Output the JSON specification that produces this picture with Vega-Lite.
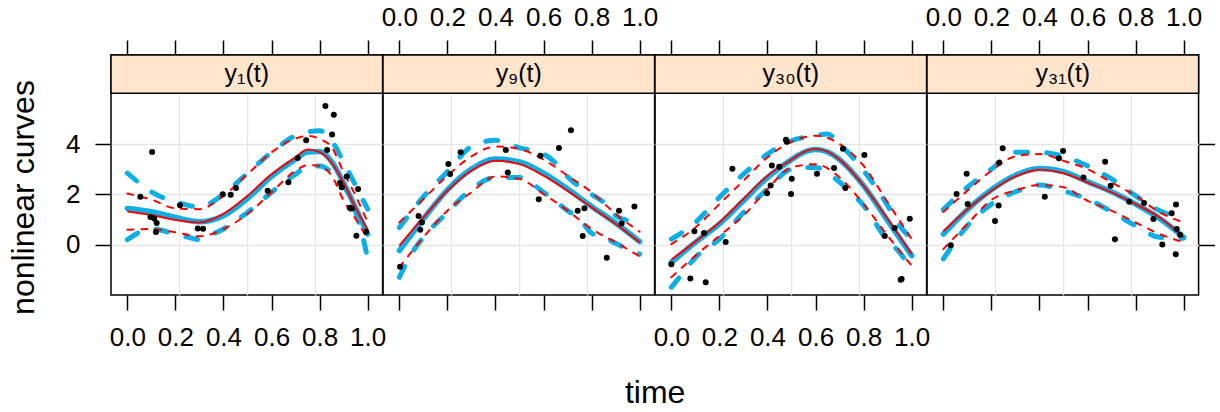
{
"$schema": "https://vega.github.io/schema/vega-lite/v6.json",
"background": "white",
"padding": {"left": 6, "top": 3, "right": 5, "bottom": 5},
"spacing": 0,
"bounds": "flush",
"config": {
  "font": "Liberation Sans",
  "view": {"stroke": "black", "strokeWidth": 1.5},
  "line": {"interpolate": "monotone"},
  "axis": {"labelFont": "Liberation Sans", "labelFontSize": 26, "labelColor": "black", "tickColor": "black", "tickWidth": 1.5, "titleFont": "Liberation Sans", "titleFontSize": 32, "titleFontWeight": "normal", "titleColor": "black", "domain": false, "grid": false, "labelFlush": false, "labelOverlap": false}
},
"datasets": {
"strips": [{"p":"1","lab":"y₁(t)"},{"p":"9","lab":"y₉(t)"},{"p":"30","lab":"y₃₀(t)"},{"p":"31","lab":"y₃₁(t)"}],
"pts": [
{"p":"1","t":0.054,"y":1.90},{"p":"1","t":0.103,"y":3.68},{"p":"1","t":0.096,"y":1.10},{"p":"1","t":0.112,"y":1.04},{"p":"1","t":0.122,"y":0.86},{"p":"1","t":0.119,"y":0.50},{"p":"1","t":0.219,"y":1.57},{"p":"1","t":0.293,"y":0.64},{"p":"1","t":0.315,"y":0.63},{"p":"1","t":0.397,"y":2.00},{"p":"1","t":0.430,"y":1.98},{"p":"1","t":0.452,"y":2.25},{"p":"1","t":0.584,"y":2.14},{"p":"1","t":0.670,"y":2.48},{"p":"1","t":0.709,"y":3.44},{"p":"1","t":0.744,"y":4.15},{"p":"1","t":0.824,"y":5.51},{"p":"1","t":0.859,"y":5.16},{"p":"1","t":0.852,"y":4.38},{"p":"1","t":0.831,"y":3.76},{"p":"1","t":0.913,"y":2.71},{"p":"1","t":0.884,"y":2.45},{"p":"1","t":0.892,"y":2.28},{"p":"1","t":0.960,"y":2.21},{"p":"1","t":0.925,"y":1.47},{"p":"1","t":0.934,"y":1.44},{"p":"1","t":0.953,"y":0.35},{"p":"1","t":0.993,"y":0.51},
{"p":"9","t":0.003,"y":-0.88},{"p":"9","t":0.080,"y":1.14},{"p":"9","t":0.094,"y":0.88},{"p":"9","t":0.087,"y":0.59},{"p":"9","t":0.204,"y":3.21},{"p":"9","t":0.211,"y":2.81},{"p":"9","t":0.255,"y":3.67},{"p":"9","t":0.443,"y":3.76},{"p":"9","t":0.451,"y":2.87},{"p":"9","t":0.587,"y":3.53},{"p":"9","t":0.580,"y":1.80},{"p":"9","t":0.664,"y":3.84},{"p":"9","t":0.714,"y":4.55},{"p":"9","t":0.742,"y":1.35},{"p":"9","t":0.770,"y":1.45},{"p":"9","t":0.763,"y":0.34},{"p":"9","t":0.863,"y":-0.52},{"p":"9","t":0.914,"y":1.35},{"p":"9","t":0.925,"y":0.84},{"p":"9","t":0.978,"y":1.52},
{"p":"30","t":0.0,"y":-0.78},{"p":"30","t":0.079,"y":-1.35},{"p":"30","t":0.143,"y":-1.50},{"p":"30","t":0.096,"y":0.53},{"p":"30","t":0.136,"y":0.46},{"p":"30","t":0.226,"y":0.10},{"p":"30","t":0.254,"y":3.02},{"p":"30","t":0.398,"y":2.04},{"p":"30","t":0.413,"y":2.35},{"p":"30","t":0.418,"y":3.15},{"p":"30","t":0.449,"y":3.10},{"p":"30","t":0.477,"y":4.17},{"p":"30","t":0.480,"y":4.09},{"p":"30","t":0.501,"y":2.62},{"p":"30","t":0.498,"y":2.01},{"p":"30","t":0.606,"y":2.82},{"p":"30","t":0.677,"y":3.05},{"p":"30","t":0.714,"y":3.81},{"p":"30","t":0.724,"y":2.25},{"p":"30","t":0.803,"y":3.56},{"p":"30","t":0.888,"y":0.34},{"p":"30","t":0.929,"y":0.66},{"p":"30","t":0.992,"y":1.03},{"p":"30","t":0.954,"y":-1.40},{"p":"30","t":0.958,"y":-1.37},
{"p":"31","t":0.031,"y":-0.03},{"p":"31","t":0.055,"y":2.01},{"p":"31","t":0.097,"y":2.82},{"p":"31","t":0.101,"y":1.61},{"p":"31","t":0.215,"y":0.94},{"p":"31","t":0.230,"y":1.56},{"p":"31","t":0.232,"y":3.26},{"p":"31","t":0.247,"y":3.83},{"p":"31","t":0.422,"y":1.90},{"p":"31","t":0.481,"y":3.43},{"p":"31","t":0.498,"y":3.72},{"p":"31","t":0.583,"y":2.67},{"p":"31","t":0.673,"y":3.29},{"p":"31","t":0.696,"y":2.34},{"p":"31","t":0.714,"y":0.21},{"p":"31","t":0.773,"y":1.70},{"p":"31","t":0.835,"y":1.65},{"p":"31","t":0.874,"y":1.02},{"p":"31","t":0.911,"y":0.00},{"p":"31","t":0.950,"y":1.25},{"p":"31","t":0.968,"y":1.59},{"p":"31","t":0.971,"y":0.62},{"p":"31","t":0.985,"y":0.39},{"p":"31","t":0.967,"y":-0.38}
],
"curves": [
{"p":"1","c":"r","k":"e","t":0,"v":1.32},{"p":"1","c":"r","k":"e","t":0.1,"v":1.18},{"p":"1","c":"r","k":"e","t":0.2,"v":0.98},{"p":"1","c":"r","k":"e","t":0.3,"v":0.88},{"p":"1","c":"r","k":"e","t":0.4,"v":1.22},{"p":"1","c":"r","k":"e","t":0.5,"v":1.94},{"p":"1","c":"r","k":"e","t":0.6,"v":2.80},{"p":"1","c":"r","k":"e","t":0.7,"v":3.47},{"p":"1","c":"r","k":"e","t":0.75,"v":3.78},{"p":"1","c":"r","k":"e","t":0.8,"v":3.68},{"p":"1","c":"r","k":"e","t":0.85,"v":3.25},{"p":"1","c":"r","k":"e","t":0.9,"v":2.45},{"p":"1","c":"r","k":"e","t":0.95,"v":1.45},{"p":"1","c":"r","k":"e","t":1,"v":0.59},
{"p":"1","c":"b","k":"e","t":0,"v":1.44},{"p":"1","c":"b","k":"e","t":0.1,"v":1.31},{"p":"1","c":"b","k":"e","t":0.2,"v":1.08},{"p":"1","c":"b","k":"e","t":0.3,"v":0.91},{"p":"1","c":"b","k":"e","t":0.4,"v":1.15},{"p":"1","c":"b","k":"e","t":0.5,"v":1.84},{"p":"1","c":"b","k":"e","t":0.6,"v":2.71},{"p":"1","c":"b","k":"e","t":0.7,"v":3.40},{"p":"1","c":"b","k":"e","t":0.75,"v":3.68},{"p":"1","c":"b","k":"e","t":0.8,"v":3.70},{"p":"1","c":"b","k":"e","t":0.85,"v":3.30},{"p":"1","c":"b","k":"e","t":0.9,"v":2.45},{"p":"1","c":"b","k":"e","t":0.95,"v":1.45},{"p":"1","c":"b","k":"e","t":1,"v":0.42},
{"p":"1","c":"r","k":"h","t":0,"v":2.03},{"p":"1","c":"r","k":"h","t":0.1,"v":1.79},{"p":"1","c":"r","k":"h","t":0.2,"v":1.44},{"p":"1","c":"r","k":"h","t":0.3,"v":1.41},{"p":"1","c":"r","k":"h","t":0.4,"v":1.94},{"p":"1","c":"r","k":"h","t":0.5,"v":2.80},{"p":"1","c":"r","k":"h","t":0.6,"v":3.67},{"p":"1","c":"r","k":"h","t":0.7,"v":4.22},{"p":"1","c":"r","k":"h","t":0.75,"v":4.33},{"p":"1","c":"r","k":"h","t":0.8,"v":4.20},{"p":"1","c":"r","k":"h","t":0.85,"v":3.87},{"p":"1","c":"r","k":"h","t":0.9,"v":2.87},{"p":"1","c":"r","k":"h","t":0.95,"v":1.94},{"p":"1","c":"r","k":"h","t":1,"v":0.88},
{"p":"1","c":"r","k":"l","t":0,"v":0.59},{"p":"1","c":"r","k":"l","t":0.1,"v":0.62},{"p":"1","c":"r","k":"l","t":0.2,"v":0.49},{"p":"1","c":"r","k":"l","t":0.3,"v":0.33},{"p":"1","c":"r","k":"l","t":0.4,"v":0.62},{"p":"1","c":"r","k":"l","t":0.5,"v":1.22},{"p":"1","c":"r","k":"l","t":0.6,"v":2.08},{"p":"1","c":"r","k":"l","t":0.7,"v":2.94},{"p":"1","c":"r","k":"l","t":0.75,"v":3.16},{"p":"1","c":"r","k":"l","t":0.8,"v":3.13},{"p":"1","c":"r","k":"l","t":0.85,"v":2.74},{"p":"1","c":"r","k":"l","t":0.9,"v":1.75},{"p":"1","c":"r","k":"l","t":0.95,"v":1.02},{"p":"1","c":"r","k":"l","t":1,"v":0.22},
{"p":"1","c":"b","k":"h","t":0,"v":2.84},{"p":"1","c":"b","k":"h","t":0.05,"v":2.45},{"p":"1","c":"b","k":"h","t":0.1,"v":2.10},{"p":"1","c":"b","k":"h","t":0.2,"v":1.70},{"p":"1","c":"b","k":"h","t":0.3,"v":1.50},{"p":"1","c":"b","k":"h","t":0.4,"v":2.01},{"p":"1","c":"b","k":"h","t":0.5,"v":2.84},{"p":"1","c":"b","k":"h","t":0.6,"v":3.67},{"p":"1","c":"b","k":"h","t":0.7,"v":4.33},{"p":"1","c":"b","k":"h","t":0.8,"v":4.53},{"p":"1","c":"b","k":"h","t":0.85,"v":4.13},{"p":"1","c":"b","k":"h","t":0.9,"v":3.27},{"p":"1","c":"b","k":"h","t":0.95,"v":2.34},{"p":"1","c":"b","k":"h","t":1,"v":1.41},
{"p":"1","c":"b","k":"l","t":0,"v":0.20},{"p":"1","c":"b","k":"l","t":0.05,"v":0.49},{"p":"1","c":"b","k":"l","t":0.1,"v":0.62},{"p":"1","c":"b","k":"l","t":0.15,"v":0.55},{"p":"1","c":"b","k":"l","t":0.2,"v":0.40},{"p":"1","c":"b","k":"l","t":0.25,"v":0.30},{"p":"1","c":"b","k":"l","t":0.3,"v":0.20},{"p":"1","c":"b","k":"l","t":0.35,"v":0.40},{"p":"1","c":"b","k":"l","t":0.4,"v":0.62},{"p":"1","c":"b","k":"l","t":0.45,"v":0.95},{"p":"1","c":"b","k":"l","t":0.5,"v":1.28},{"p":"1","c":"b","k":"l","t":0.6,"v":2.08},{"p":"1","c":"b","k":"l","t":0.7,"v":2.80},{"p":"1","c":"b","k":"l","t":0.75,"v":3.10},{"p":"1","c":"b","k":"l","t":0.8,"v":3.13},{"p":"1","c":"b","k":"l","t":0.85,"v":2.87},{"p":"1","c":"b","k":"l","t":0.9,"v":2.35},{"p":"1","c":"b","k":"l","t":0.95,"v":1.30},{"p":"1","c":"b","k":"l","t":0.975,"v":0.50},{"p":"1","c":"b","k":"l","t":1,"v":-0.57},
{"p":"9","c":"r","k":"e","t":0,"v":-0.04},{"p":"9","c":"r","k":"e","t":0.1,"v":1.08},{"p":"9","c":"r","k":"e","t":0.2,"v":2.14},{"p":"9","c":"r","k":"e","t":0.3,"v":2.94},{"p":"9","c":"r","k":"e","t":0.4,"v":3.33},{"p":"9","c":"r","k":"e","t":0.5,"v":3.20},{"p":"9","c":"r","k":"e","t":0.6,"v":2.74},{"p":"9","c":"r","k":"e","t":0.7,"v":2.14},{"p":"9","c":"r","k":"e","t":0.8,"v":1.48},{"p":"9","c":"r","k":"e","t":0.9,"v":0.82},{"p":"9","c":"r","k":"e","t":1,"v":0.09},
{"p":"9","c":"b","k":"e","t":0,"v":-0.24},{"p":"9","c":"b","k":"e","t":0.1,"v":1.02},{"p":"9","c":"b","k":"e","t":0.2,"v":2.18},{"p":"9","c":"b","k":"e","t":0.3,"v":3.00},{"p":"9","c":"b","k":"e","t":0.4,"v":3.40},{"p":"9","c":"b","k":"e","t":0.5,"v":3.29},{"p":"9","c":"b","k":"e","t":0.6,"v":2.84},{"p":"9","c":"b","k":"e","t":0.7,"v":2.21},{"p":"9","c":"b","k":"e","t":0.8,"v":1.52},{"p":"9","c":"b","k":"e","t":0.9,"v":0.86},{"p":"9","c":"b","k":"e","t":1,"v":0.12},
{"p":"9","c":"r","k":"h","t":0,"v":0.88},{"p":"9","c":"r","k":"h","t":0.1,"v":1.81},{"p":"9","c":"r","k":"h","t":0.2,"v":2.74},{"p":"9","c":"r","k":"h","t":0.3,"v":3.51},{"p":"9","c":"r","k":"h","t":0.4,"v":3.90},{"p":"9","c":"r","k":"h","t":0.5,"v":3.80},{"p":"9","c":"r","k":"h","t":0.6,"v":3.38},{"p":"9","c":"r","k":"h","t":0.7,"v":2.74},{"p":"9","c":"r","k":"h","t":0.8,"v":2.08},{"p":"9","c":"r","k":"h","t":0.9,"v":1.22},{"p":"9","c":"r","k":"h","t":1,"v":0.51},
{"p":"9","c":"r","k":"l","t":0,"v":-0.91},{"p":"9","c":"r","k":"l","t":0.1,"v":0.29},{"p":"9","c":"r","k":"l","t":0.2,"v":1.35},{"p":"9","c":"r","k":"l","t":0.3,"v":2.08},{"p":"9","c":"r","k":"l","t":0.4,"v":2.71},{"p":"9","c":"r","k":"l","t":0.5,"v":2.61},{"p":"9","c":"r","k":"l","t":0.6,"v":2.01},{"p":"9","c":"r","k":"l","t":0.7,"v":1.35},{"p":"9","c":"r","k":"l","t":0.8,"v":0.62},{"p":"9","c":"r","k":"l","t":0.9,"v":0.09},{"p":"9","c":"r","k":"l","t":1,"v":-0.47},
{"p":"9","c":"b","k":"h","t":0,"v":0.68},{"p":"9","c":"b","k":"h","t":0.1,"v":1.90},{"p":"9","c":"b","k":"h","t":0.2,"v":2.90},{"p":"9","c":"b","k":"h","t":0.3,"v":3.90},{"p":"9","c":"b","k":"h","t":0.4,"v":4.15},{"p":"9","c":"b","k":"h","t":0.5,"v":3.85},{"p":"9","c":"b","k":"h","t":0.6,"v":3.60},{"p":"9","c":"b","k":"h","t":0.65,"v":3.25},{"p":"9","c":"b","k":"h","t":0.7,"v":2.70},{"p":"9","c":"b","k":"h","t":0.8,"v":2.00},{"p":"9","c":"b","k":"h","t":0.85,"v":1.68},{"p":"9","c":"b","k":"h","t":0.9,"v":1.15},{"p":"9","c":"b","k":"h","t":0.95,"v":0.97},{"p":"9","c":"b","k":"h","t":1,"v":0.95},
{"p":"9","c":"b","k":"l","t":0,"v":-1.30},{"p":"9","c":"b","k":"l","t":0.05,"v":-0.37},{"p":"9","c":"b","k":"l","t":0.1,"v":0.29},{"p":"9","c":"b","k":"l","t":0.2,"v":1.28},{"p":"9","c":"b","k":"l","t":0.3,"v":2.21},{"p":"9","c":"b","k":"l","t":0.4,"v":2.67},{"p":"9","c":"b","k":"l","t":0.5,"v":2.67},{"p":"9","c":"b","k":"l","t":0.6,"v":2.08},{"p":"9","c":"b","k":"l","t":0.7,"v":1.35},{"p":"9","c":"b","k":"l","t":0.75,"v":1.02},{"p":"9","c":"b","k":"l","t":0.8,"v":0.45},{"p":"9","c":"b","k":"l","t":0.85,"v":0.29},{"p":"9","c":"b","k":"l","t":0.9,"v":0.05},{"p":"9","c":"b","k":"l","t":0.95,"v":-0.18},{"p":"9","c":"b","k":"l","t":1,"v":-0.38},
{"p":"30","c":"r","k":"e","t":0,"v":-0.60},{"p":"30","c":"r","k":"e","t":0.1,"v":0.12},{"p":"30","c":"r","k":"e","t":0.2,"v":0.88},{"p":"30","c":"r","k":"e","t":0.3,"v":1.81},{"p":"30","c":"r","k":"e","t":0.4,"v":2.74},{"p":"30","c":"r","k":"e","t":0.5,"v":3.38},{"p":"30","c":"r","k":"e","t":0.55,"v":3.68},{"p":"30","c":"r","k":"e","t":0.6,"v":3.80},{"p":"30","c":"r","k":"e","t":0.65,"v":3.70},{"p":"30","c":"r","k":"e","t":0.7,"v":3.38},{"p":"30","c":"r","k":"e","t":0.8,"v":2.34},{"p":"30","c":"r","k":"e","t":0.9,"v":1.02},{"p":"30","c":"r","k":"e","t":1,"v":-0.38},
{"p":"30","c":"b","k":"e","t":0,"v":-0.71},{"p":"30","c":"b","k":"e","t":0.1,"v":0.09},{"p":"30","c":"b","k":"e","t":0.2,"v":0.82},{"p":"30","c":"b","k":"e","t":0.3,"v":1.74},{"p":"30","c":"b","k":"e","t":0.4,"v":2.67},{"p":"30","c":"b","k":"e","t":0.5,"v":3.38},{"p":"30","c":"b","k":"e","t":0.55,"v":3.66},{"p":"30","c":"b","k":"e","t":0.6,"v":3.78},{"p":"30","c":"b","k":"e","t":0.65,"v":3.68},{"p":"30","c":"b","k":"e","t":0.7,"v":3.38},{"p":"30","c":"b","k":"e","t":0.8,"v":2.34},{"p":"30","c":"b","k":"e","t":0.9,"v":0.95},{"p":"30","c":"b","k":"e","t":1,"v":-0.44},
{"p":"30","c":"r","k":"h","t":0,"v":0.02},{"p":"30","c":"r","k":"h","t":0.1,"v":0.68},{"p":"30","c":"r","k":"h","t":0.2,"v":1.61},{"p":"30","c":"r","k":"h","t":0.3,"v":2.54},{"p":"30","c":"r","k":"h","t":0.4,"v":3.47},{"p":"30","c":"r","k":"h","t":0.5,"v":4.09},{"p":"30","c":"r","k":"h","t":0.6,"v":4.33},{"p":"30","c":"r","k":"h","t":0.7,"v":4.00},{"p":"30","c":"r","k":"h","t":0.8,"v":3.13},{"p":"30","c":"r","k":"h","t":0.9,"v":1.68},{"p":"30","c":"r","k":"h","t":1,"v":0.22},
{"p":"30","c":"r","k":"l","t":0,"v":-1.30},{"p":"30","c":"r","k":"l","t":0.1,"v":-0.44},{"p":"30","c":"r","k":"l","t":0.2,"v":0.35},{"p":"30","c":"r","k":"l","t":0.3,"v":1.15},{"p":"30","c":"r","k":"l","t":0.4,"v":2.21},{"p":"30","c":"r","k":"l","t":0.5,"v":3.07},{"p":"30","c":"r","k":"l","t":0.6,"v":3.20},{"p":"30","c":"r","k":"l","t":0.7,"v":2.67},{"p":"30","c":"r","k":"l","t":0.8,"v":1.61},{"p":"30","c":"r","k":"l","t":0.9,"v":0.35},{"p":"30","c":"r","k":"l","t":1,"v":-0.84},
{"p":"30","c":"b","k":"h","t":0,"v":0.22},{"p":"30","c":"b","k":"h","t":0.1,"v":0.88},{"p":"30","c":"b","k":"h","t":0.2,"v":1.88},{"p":"30","c":"b","k":"h","t":0.3,"v":2.80},{"p":"30","c":"b","k":"h","t":0.4,"v":3.60},{"p":"30","c":"b","k":"h","t":0.5,"v":4.13},{"p":"30","c":"b","k":"h","t":0.6,"v":4.33},{"p":"30","c":"b","k":"h","t":0.65,"v":4.40},{"p":"30","c":"b","k":"h","t":0.7,"v":4.00},{"p":"30","c":"b","k":"h","t":0.8,"v":2.94},{"p":"30","c":"b","k":"h","t":0.9,"v":1.55},{"p":"30","c":"b","k":"h","t":0.95,"v":0.75},{"p":"30","c":"b","k":"h","t":1,"v":0.22},
{"p":"30","c":"b","k":"l","t":0,"v":-1.70},{"p":"30","c":"b","k":"l","t":0.05,"v":-1.10},{"p":"30","c":"b","k":"l","t":0.1,"v":-0.51},{"p":"30","c":"b","k":"l","t":0.2,"v":0.22},{"p":"30","c":"b","k":"l","t":0.3,"v":1.28},{"p":"30","c":"b","k":"l","t":0.4,"v":2.21},{"p":"30","c":"b","k":"l","t":0.5,"v":3.00},{"p":"30","c":"b","k":"l","t":0.6,"v":3.07},{"p":"30","c":"b","k":"l","t":0.7,"v":2.48},{"p":"30","c":"b","k":"l","t":0.8,"v":1.55},{"p":"30","c":"b","k":"l","t":0.9,"v":0.16},{"p":"30","c":"b","k":"l","t":0.95,"v":-0.31},{"p":"30","c":"b","k":"l","t":1,"v":-1.04},
{"p":"31","c":"r","k":"e","t":0,"v":0.53},{"p":"31","c":"r","k":"e","t":0.1,"v":1.41},{"p":"31","c":"r","k":"e","t":0.2,"v":2.14},{"p":"31","c":"r","k":"e","t":0.3,"v":2.71},{"p":"31","c":"r","k":"e","t":0.4,"v":2.98},{"p":"31","c":"r","k":"e","t":0.5,"v":2.84},{"p":"31","c":"r","k":"e","t":0.6,"v":2.47},{"p":"31","c":"r","k":"e","t":0.7,"v":2.08},{"p":"31","c":"r","k":"e","t":0.8,"v":1.61},{"p":"31","c":"r","k":"e","t":0.9,"v":1.08},{"p":"31","c":"r","k":"e","t":1,"v":0.29},
{"p":"31","c":"b","k":"e","t":0,"v":0.42},{"p":"31","c":"b","k":"e","t":0.1,"v":1.39},{"p":"31","c":"b","k":"e","t":0.2,"v":2.18},{"p":"31","c":"b","k":"e","t":0.3,"v":2.76},{"p":"31","c":"b","k":"e","t":0.4,"v":3.03},{"p":"31","c":"b","k":"e","t":0.5,"v":2.90},{"p":"31","c":"b","k":"e","t":0.6,"v":2.50},{"p":"31","c":"b","k":"e","t":0.7,"v":2.10},{"p":"31","c":"b","k":"e","t":0.8,"v":1.61},{"p":"31","c":"b","k":"e","t":0.9,"v":1.04},{"p":"31","c":"b","k":"e","t":1,"v":0.29},
{"p":"31","c":"r","k":"h","t":0,"v":1.30},{"p":"31","c":"r","k":"h","t":0.1,"v":2.14},{"p":"31","c":"r","k":"h","t":0.2,"v":2.94},{"p":"31","c":"r","k":"h","t":0.3,"v":3.51},{"p":"31","c":"r","k":"h","t":0.4,"v":3.60},{"p":"31","c":"r","k":"h","t":0.5,"v":3.33},{"p":"31","c":"r","k":"h","t":0.6,"v":3.00},{"p":"31","c":"r","k":"h","t":0.7,"v":2.47},{"p":"31","c":"r","k":"h","t":0.8,"v":1.94},{"p":"31","c":"r","k":"h","t":0.9,"v":1.28},{"p":"31","c":"r","k":"h","t":1,"v":0.88},
{"p":"31","c":"r","k":"l","t":0,"v":-0.18},{"p":"31","c":"r","k":"l","t":0.1,"v":0.82},{"p":"31","c":"r","k":"l","t":0.2,"v":1.78},{"p":"31","c":"r","k":"l","t":0.3,"v":2.15},{"p":"31","c":"r","k":"l","t":0.4,"v":2.37},{"p":"31","c":"r","k":"l","t":0.5,"v":2.28},{"p":"31","c":"r","k":"l","t":0.6,"v":1.74},{"p":"31","c":"r","k":"l","t":0.7,"v":1.35},{"p":"31","c":"r","k":"l","t":0.8,"v":0.88},{"p":"31","c":"r","k":"l","t":0.9,"v":0.42},{"p":"31","c":"r","k":"l","t":1,"v":0.09},
{"p":"31","c":"b","k":"h","t":0,"v":1.39},{"p":"31","c":"b","k":"h","t":0.1,"v":2.28},{"p":"31","c":"b","k":"h","t":0.2,"v":3.00},{"p":"31","c":"b","k":"h","t":0.3,"v":3.67},{"p":"31","c":"b","k":"h","t":0.4,"v":3.67},{"p":"31","c":"b","k":"h","t":0.5,"v":3.51},{"p":"31","c":"b","k":"h","t":0.6,"v":3.13},{"p":"31","c":"b","k":"h","t":0.7,"v":2.61},{"p":"31","c":"b","k":"h","t":0.8,"v":1.94},{"p":"31","c":"b","k":"h","t":0.9,"v":1.35},{"p":"31","c":"b","k":"h","t":1,"v":1.02},
{"p":"31","c":"b","k":"l","t":0,"v":-0.57},{"p":"31","c":"b","k":"l","t":0.1,"v":0.75},{"p":"31","c":"b","k":"l","t":0.2,"v":1.61},{"p":"31","c":"b","k":"l","t":0.3,"v":2.10},{"p":"31","c":"b","k":"l","t":0.4,"v":2.37},{"p":"31","c":"b","k":"l","t":0.5,"v":2.14},{"p":"31","c":"b","k":"l","t":0.6,"v":1.81},{"p":"31","c":"b","k":"l","t":0.7,"v":1.31},{"p":"31","c":"b","k":"l","t":0.8,"v":0.75},{"p":"31","c":"b","k":"l","t":0.9,"v":0.29},{"p":"31","c":"b","k":"l","t":1,"v":0.25}
]
},
"hconcat": [
{
 "width": 271.6, "height": 240,
 "resolve": {"axis": {"x": "independent", "y": "independent"}},
 "layer": [
  {"data": {"name": "strips"}, "transform": [{"filter": "datum.p==='1'"}], "mark": {"type": "rect", "fill": "#FFE5CC", "stroke": "black", "strokeWidth": 1.5},
   "encoding": {"x": {"datum": -0.068, "type": "quantitative", "axis": null}, "x2": {"datum": 1.062}, "y": {"datum": 6.02, "type": "quantitative", "axis": null}, "y2": {"datum": 7.54}}},
  {"data": {"name": "strips"}, "transform": [{"filter": "datum.p==='1'"}], "mark": {"type": "text", "fontSize": 25, "baseline": "middle", "align": "center", "color": "black"},
   "encoding": {"x": {"datum": 0.497, "type": "quantitative", "axis": null}, "y": {"datum": 6.78, "type": "quantitative", "axis": null}, "text": {"field": "lab"}}},
  {"data": {"name": "curves"}, "transform": [{"filter": "datum.p==='1' && datum.c==='b' && datum.k!=='e'"}], "mark": {"type": "line", "color": "#0AAFE8", "strokeWidth": 5, "strokeDash": [12, 19], "strokeCap": "round"},
   "encoding": {"x": {"field": "t", "type": "quantitative", "axis": null}, "y": {"field": "v", "type": "quantitative", "axis": null}, "detail": {"field": "k"}}},
  {"data": {"name": "curves"}, "transform": [{"filter": "datum.p==='1' && datum.c==='b' && datum.k==='e'"}], "mark": {"type": "line", "color": "#0AAFE8", "strokeWidth": 5.5, "strokeCap": "round"},
   "encoding": {"x": {"field": "t", "type": "quantitative", "axis": {"orient": "top", "values": [0, 0.2, 0.4, 0.6, 0.8, 1], "tickSize": 15, "labels": false, "title": null}}, "y": {"field": "v", "type": "quantitative", "axis": null}}},
  {"data": {"name": "curves"}, "transform": [{"filter": "datum.p==='1' && datum.c==='r' && datum.k!=='e'"}], "mark": {"type": "line", "color": "#FF0000", "strokeWidth": 2, "strokeDash": [6, 8], "strokeCap": "round"},
   "encoding": {"x": {"field": "t", "type": "quantitative", "axis": null}, "y": {"field": "v", "type": "quantitative", "axis": null}, "detail": {"field": "k"}}},
  {"data": {"name": "curves"}, "transform": [{"filter": "datum.p==='1' && datum.c==='r' && datum.k==='e'"}], "mark": {"type": "line", "color": "#FF0000", "strokeWidth": 2},
   "encoding": {"x": {"field": "t", "type": "quantitative", "axis": {"orient": "bottom", "values": [0.2145, 0.497, 0.7795], "grid": true, "gridColor": "#E6E6E6", "gridWidth": 1.3, "ticks": false, "labels": false, "title": null}}, "y": {"field": "v", "type": "quantitative", "axis": {"orient": "left", "values": [0, 2, 4], "grid": true, "gridColor": "#E6E6E6", "gridWidth": 1.3, "ticks": false, "labels": false, "title": null}}}},
  {"data": {"name": "pts"}, "transform": [{"filter": "datum.p==='1'"}], "mark": {"type": "point", "filled": true, "color": "black", "size": 36, "opacity": 1},
   "encoding": {"x": {"field": "t", "type": "quantitative", "scale": {"domain": [-0.068, 1.062], "nice": false, "zero": false}, "axis": {"orient": "bottom", "values": [0, 0.2, 0.4, 0.6, 0.8, 1], "format": ".1f", "tickSize": 15, "labelPadding": 14, "title": null}},
    "y": {"field": "y", "type": "quantitative", "scale": {"domain": [-2.004, 7.54], "nice": false, "zero": false}, "axis": {"orient": "left", "values": [0, 2, 4], "tickSize": 16, "labelPadding": 15, "labelAngle": 0, "title": "nonlinear curves", "titleAngle": -90, "titleX": -78, "titleY": 142, "titleAlign": "center", "titleBaseline": "alphabetic"}}}}
 ]
},
{
 "width": 271.6, "height": 240,
 "resolve": {"axis": {"x": "independent", "y": "independent"}},
 "layer": [
  {"data": {"name": "strips"}, "transform": [{"filter": "datum.p==='9'"}], "mark": {"type": "rect", "fill": "#FFE5CC", "stroke": "black", "strokeWidth": 1.5},
   "encoding": {"x": {"datum": -0.068, "type": "quantitative", "axis": null}, "x2": {"datum": 1.062}, "y": {"datum": 6.02, "type": "quantitative", "axis": null}, "y2": {"datum": 7.54}}},
  {"data": {"name": "strips"}, "transform": [{"filter": "datum.p==='9'"}], "mark": {"type": "text", "fontSize": 25, "baseline": "middle", "align": "center", "color": "black"},
   "encoding": {"x": {"datum": 0.497, "type": "quantitative", "axis": null}, "y": {"datum": 6.78, "type": "quantitative", "axis": null}, "text": {"field": "lab"}}},
  {"data": {"name": "curves"}, "transform": [{"filter": "datum.p==='9' && datum.c==='b' && datum.k!=='e'"}], "mark": {"type": "line", "color": "#0AAFE8", "strokeWidth": 5, "strokeDash": [12, 19], "strokeCap": "round"},
   "encoding": {"x": {"field": "t", "type": "quantitative", "axis": null}, "y": {"field": "v", "type": "quantitative", "axis": null}, "detail": {"field": "k"}}},
  {"data": {"name": "curves"}, "transform": [{"filter": "datum.p==='9' && datum.c==='b' && datum.k==='e'"}], "mark": {"type": "line", "color": "#0AAFE8", "strokeWidth": 5.5, "strokeCap": "round"},
   "encoding": {"x": {"field": "t", "type": "quantitative", "axis": {"orient": "top", "values": [0, 0.2, 0.4, 0.6, 0.8, 1], "format": ".1f", "tickSize": 15, "labelPadding": 10, "title": null}}, "y": {"field": "v", "type": "quantitative", "axis": null}}},
  {"data": {"name": "curves"}, "transform": [{"filter": "datum.p==='9' && datum.c==='r' && datum.k!=='e'"}], "mark": {"type": "line", "color": "#FF0000", "strokeWidth": 2, "strokeDash": [6, 8], "strokeCap": "round"},
   "encoding": {"x": {"field": "t", "type": "quantitative", "axis": null}, "y": {"field": "v", "type": "quantitative", "axis": null}, "detail": {"field": "k"}}},
  {"data": {"name": "curves"}, "transform": [{"filter": "datum.p==='9' && datum.c==='r' && datum.k==='e'"}], "mark": {"type": "line", "color": "#FF0000", "strokeWidth": 2},
   "encoding": {"x": {"field": "t", "type": "quantitative", "axis": {"orient": "bottom", "values": [0.2145, 0.497, 0.7795], "grid": true, "gridColor": "#E6E6E6", "gridWidth": 1.3, "ticks": false, "labels": false, "title": null}}, "y": {"field": "v", "type": "quantitative", "axis": {"orient": "left", "values": [0, 2, 4], "grid": true, "gridColor": "#E6E6E6", "gridWidth": 1.3, "ticks": false, "labels": false, "title": null}}}},
  {"data": {"name": "pts"}, "transform": [{"filter": "datum.p==='9'"}], "mark": {"type": "point", "filled": true, "color": "black", "size": 36, "opacity": 1},
   "encoding": {"x": {"field": "t", "type": "quantitative", "scale": {"domain": [-0.068, 1.062], "nice": false, "zero": false}, "axis": {"orient": "bottom", "values": [0, 0.2, 0.4, 0.6, 0.8, 1], "tickSize": 15, "labels": false, "title": "time", "titleX": 271.6, "titleY": 107.4, "titleAlign": "center", "titleBaseline": "alphabetic", "titleAngle": 0}},
    "y": {"field": "y", "type": "quantitative", "scale": {"domain": [-2.004, 7.54], "nice": false, "zero": false}, "axis": null}}}
 ]
},
{
 "width": 271.6, "height": 240,
 "resolve": {"axis": {"x": "independent", "y": "independent"}},
 "layer": [
  {"data": {"name": "strips"}, "transform": [{"filter": "datum.p==='30'"}], "mark": {"type": "rect", "fill": "#FFE5CC", "stroke": "black", "strokeWidth": 1.5},
   "encoding": {"x": {"datum": -0.068, "type": "quantitative", "axis": null}, "x2": {"datum": 1.062}, "y": {"datum": 6.02, "type": "quantitative", "axis": null}, "y2": {"datum": 7.54}}},
  {"data": {"name": "strips"}, "transform": [{"filter": "datum.p==='30'"}], "mark": {"type": "text", "fontSize": 25, "baseline": "middle", "align": "center", "color": "black"},
   "encoding": {"x": {"datum": 0.497, "type": "quantitative", "axis": null}, "y": {"datum": 6.78, "type": "quantitative", "axis": null}, "text": {"field": "lab"}}},
  {"data": {"name": "curves"}, "transform": [{"filter": "datum.p==='30' && datum.c==='b' && datum.k!=='e'"}], "mark": {"type": "line", "color": "#0AAFE8", "strokeWidth": 5, "strokeDash": [12, 19], "strokeCap": "round"},
   "encoding": {"x": {"field": "t", "type": "quantitative", "axis": null}, "y": {"field": "v", "type": "quantitative", "axis": null}, "detail": {"field": "k"}}},
  {"data": {"name": "curves"}, "transform": [{"filter": "datum.p==='30' && datum.c==='b' && datum.k==='e'"}], "mark": {"type": "line", "color": "#0AAFE8", "strokeWidth": 5.5, "strokeCap": "round"},
   "encoding": {"x": {"field": "t", "type": "quantitative", "axis": {"orient": "top", "values": [0, 0.2, 0.4, 0.6, 0.8, 1], "tickSize": 15, "labels": false, "title": null}}, "y": {"field": "v", "type": "quantitative", "axis": null}}},
  {"data": {"name": "curves"}, "transform": [{"filter": "datum.p==='30' && datum.c==='r' && datum.k!=='e'"}], "mark": {"type": "line", "color": "#FF0000", "strokeWidth": 2, "strokeDash": [6, 8], "strokeCap": "round"},
   "encoding": {"x": {"field": "t", "type": "quantitative", "axis": null}, "y": {"field": "v", "type": "quantitative", "axis": null}, "detail": {"field": "k"}}},
  {"data": {"name": "curves"}, "transform": [{"filter": "datum.p==='30' && datum.c==='r' && datum.k==='e'"}], "mark": {"type": "line", "color": "#FF0000", "strokeWidth": 2},
   "encoding": {"x": {"field": "t", "type": "quantitative", "axis": {"orient": "bottom", "values": [0.2145, 0.497, 0.7795], "grid": true, "gridColor": "#E6E6E6", "gridWidth": 1.3, "ticks": false, "labels": false, "title": null}}, "y": {"field": "v", "type": "quantitative", "axis": {"orient": "left", "values": [0, 2, 4], "grid": true, "gridColor": "#E6E6E6", "gridWidth": 1.3, "ticks": false, "labels": false, "title": null}}}},
  {"data": {"name": "pts"}, "transform": [{"filter": "datum.p==='30'"}], "mark": {"type": "point", "filled": true, "color": "black", "size": 36, "opacity": 1},
   "encoding": {"x": {"field": "t", "type": "quantitative", "scale": {"domain": [-0.068, 1.062], "nice": false, "zero": false}, "axis": {"orient": "bottom", "values": [0, 0.2, 0.4, 0.6, 0.8, 1], "format": ".1f", "tickSize": 15, "labelPadding": 14, "title": null}},
    "y": {"field": "y", "type": "quantitative", "scale": {"domain": [-2.004, 7.54], "nice": false, "zero": false}, "axis": null}}}
 ]
},
{
 "width": 271.6, "height": 240,
 "resolve": {"axis": {"x": "independent", "y": "independent"}},
 "layer": [
  {"data": {"name": "strips"}, "transform": [{"filter": "datum.p==='31'"}], "mark": {"type": "rect", "fill": "#FFE5CC", "stroke": "black", "strokeWidth": 1.5},
   "encoding": {"x": {"datum": -0.068, "type": "quantitative", "axis": null}, "x2": {"datum": 1.062}, "y": {"datum": 6.02, "type": "quantitative", "axis": null}, "y2": {"datum": 7.54}}},
  {"data": {"name": "strips"}, "transform": [{"filter": "datum.p==='31'"}], "mark": {"type": "text", "fontSize": 25, "baseline": "middle", "align": "center", "color": "black"},
   "encoding": {"x": {"datum": 0.497, "type": "quantitative", "axis": null}, "y": {"datum": 6.78, "type": "quantitative", "axis": null}, "text": {"field": "lab"}}},
  {"data": {"name": "curves"}, "transform": [{"filter": "datum.p==='31' && datum.c==='b' && datum.k!=='e'"}], "mark": {"type": "line", "color": "#0AAFE8", "strokeWidth": 5, "strokeDash": [12, 19], "strokeCap": "round"},
   "encoding": {"x": {"field": "t", "type": "quantitative", "axis": null}, "y": {"field": "v", "type": "quantitative", "axis": null}, "detail": {"field": "k"}}},
  {"data": {"name": "curves"}, "transform": [{"filter": "datum.p==='31' && datum.c==='b' && datum.k==='e'"}], "mark": {"type": "line", "color": "#0AAFE8", "strokeWidth": 5.5, "strokeCap": "round"},
   "encoding": {"x": {"field": "t", "type": "quantitative", "axis": {"orient": "top", "values": [0, 0.2, 0.4, 0.6, 0.8, 1], "format": ".1f", "tickSize": 15, "labelPadding": 10, "title": null}}, "y": {"field": "v", "type": "quantitative", "axis": {"orient": "right", "values": [0, 2, 4], "tickSize": 16, "labels": false, "title": null}}}},
  {"data": {"name": "curves"}, "transform": [{"filter": "datum.p==='31' && datum.c==='r' && datum.k!=='e'"}], "mark": {"type": "line", "color": "#FF0000", "strokeWidth": 2, "strokeDash": [6, 8], "strokeCap": "round"},
   "encoding": {"x": {"field": "t", "type": "quantitative", "axis": null}, "y": {"field": "v", "type": "quantitative", "axis": null}, "detail": {"field": "k"}}},
  {"data": {"name": "curves"}, "transform": [{"filter": "datum.p==='31' && datum.c==='r' && datum.k==='e'"}], "mark": {"type": "line", "color": "#FF0000", "strokeWidth": 2},
   "encoding": {"x": {"field": "t", "type": "quantitative", "axis": {"orient": "bottom", "values": [0.2145, 0.497, 0.7795], "grid": true, "gridColor": "#E6E6E6", "gridWidth": 1.3, "ticks": false, "labels": false, "title": null}}, "y": {"field": "v", "type": "quantitative", "axis": {"orient": "left", "values": [0, 2, 4], "grid": true, "gridColor": "#E6E6E6", "gridWidth": 1.3, "ticks": false, "labels": false, "title": null}}}},
  {"data": {"name": "pts"}, "transform": [{"filter": "datum.p==='31'"}], "mark": {"type": "point", "filled": true, "color": "black", "size": 36, "opacity": 1},
   "encoding": {"x": {"field": "t", "type": "quantitative", "scale": {"domain": [-0.068, 1.062], "nice": false, "zero": false}, "axis": {"orient": "bottom", "values": [0, 0.2, 0.4, 0.6, 0.8, 1], "tickSize": 15, "labels": false, "title": null}},
    "y": {"field": "y", "type": "quantitative", "scale": {"domain": [-2.004, 7.54], "nice": false, "zero": false}, "axis": null}}}
 ]
}
]
}
